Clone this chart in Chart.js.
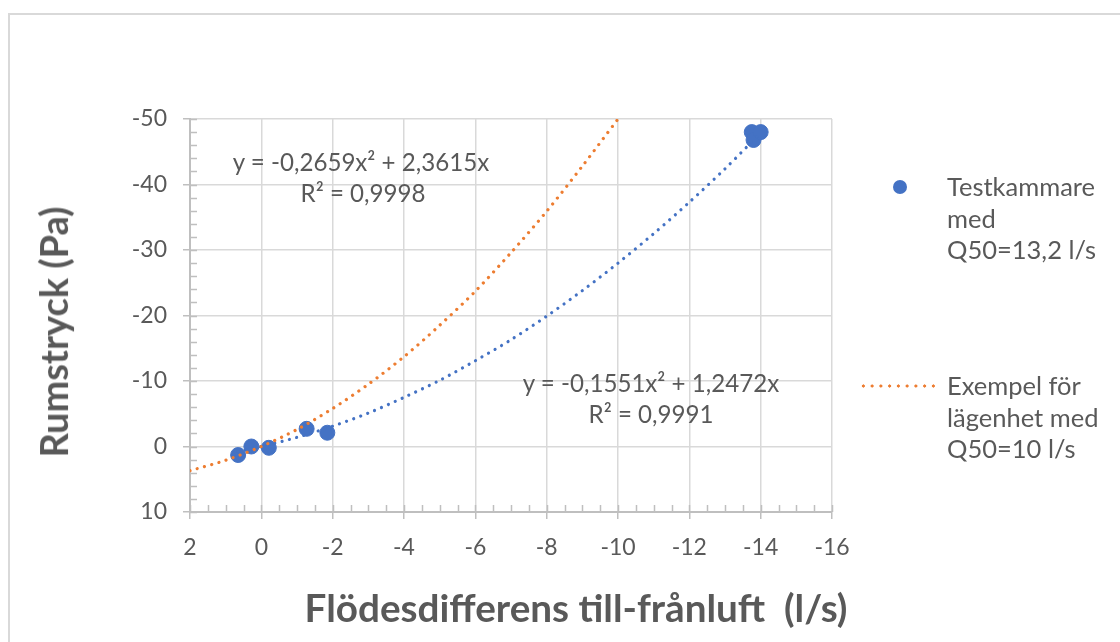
<!DOCTYPE html>
<html>
<head>
<meta charset="utf-8">
<script src="https://cdn.jsdelivr.net/npm/chart.js@4.4.1/dist/chart.umd.min.js"></script>
<style>
    body { margin: 0; background: #fff; overflow: hidden; }
    #wrap { position: relative; width: 1120px; height: 642px; overflow: hidden; }
    #frame { position: absolute; left: 8px; top: 13px; width: 1300px; height: 800px; border: 2px solid #d9d9d9; box-sizing: border-box; }
    #chart { position: absolute; left: 0; top: 0; }
    .txt { position: absolute; font-family: Lato, 'Open Sans', sans-serif; color: #595959; white-space: nowrap; line-height: 1; }
    .center { transform: translate(-50%, -50%); text-align: center; }
    .bold { font-weight: bold; }
    #ytitle { transform: translate(-50%, -50%) rotate(-90deg); }
    .legend-line { position: absolute; line-height: 31.5px; font-size: 25.5px; }
    #dot { position: absolute; left: 893px; top: 180px; width: 14px; height: 14px; border-radius: 50%; background: #4472c4; }
    #dash { position: absolute; left: 859px; top: 384px; width: 77px; height: 4px;
            background-image: radial-gradient(circle, #ed7d31 1.4px, transparent 1.8px);
            background-size: 8.75px 4px; }
</style>
</head>
<body>
<div id="wrap">
    <div id="frame"></div>
    <canvas id="chart" width="1120" height="642"></canvas>

    <div class="txt center bold" id="ytitle" style="left:54px; top:332px;">Rumstryck (Pa)</div>
    <div class="txt center bold" id="xtitle" style="left:576px; top:607px;">Flödesdifferens till-frånluft&nbsp; (l/s)</div>

    <div class="txt center eq" id="eq1" style="left:361px; top:162px;">y = -0,2659x² + 2,3615x</div>
    <div class="txt center eq" style="left:363px; top:193px;">R² = 0,9998</div>
    <div class="txt center eq" id="eq2" style="left:651px; top:383px;">y = -0,1551x² + 1,2472x</div>
    <div class="txt center eq" style="left:651px; top:414px;">R² = 0,9991</div>

    <div id="dot"></div>
    <div class="txt legend-line" style="left:947px; top:171px;">Testkammare<br>med<br>Q50=13,2 l/s</div>
    <div id="dash"></div>
    <div class="txt legend-line" style="left:947px; top:370px;">Exempel för<br>lägenhet med<br>Q50=10 l/s</div>
</div>

<script>
// Measured points (flow difference l/s, room pressure Pa)
const pointX = [0.65, 0.28, -0.21, -1.27, -1.85, -13.75, -13.8, -14.0];
const pointY = [1.3, 0.0, 0.2, -2.7, -2.1, -48.0, -46.8, -48.0];

// Trendline of the test chamber
const blueTrendX = [0.65, 0, -1, -2, -3, -4, -5, -6, -7, -8, -9, -10, -11, -12, -13, -14];
const blueTrendY = [0.75, 0, -1.4, -3.1, -5.1, -7.5, -10.1, -13.1, -16.3, -19.9, -23.8, -28.0, -32.5, -37.3, -42.4, -47.9];

// Example apartment curve
const orangeTrendX = [2, 1, 0, -1, -2, -3, -4, -5, -6, -7, -8, -9, -10];
const orangeTrendY = [3.7, 2.1, 0, -2.6, -5.8, -9.5, -13.7, -18.5, -23.7, -29.6, -35.9, -42.8, -50.0];

// Axis ranges and tick steps
const xRange = [-16, 2];
const yRange = [-50, 10];
const xStep = 2;
const yStep = 10;

const textColor = '#595959';
const fontFamily = "Lato, 'Open Sans', sans-serif";

function toXY(xs, ys) {
    return xs.map((x, i) => ({ x: x, y: ys[i] }));
}

// size a text element so it spans the width seen in the picture
function fitText(id, weight, width) {
    const el = document.getElementById(id);
    const ctx = document.createElement('canvas').getContext('2d');
    ctx.font = weight + ' 100px ' + fontFamily;
    const w = ctx.measureText(el.textContent).width;
    const size = 100 * width / w;
    el.style.fontSize = size + 'px';
    return size;
}

// small ticks between the labelled ones, Excel style
const minorTicks = {
    id: 'minorTicks',
    afterDraw(chart) {
        const { ctx, chartArea, scales } = chart;
        const x = scales.x, y = scales.y;
        ctx.save();
        ctx.strokeStyle = '#bfbfbf';
        ctx.lineWidth = 1.5;
        ctx.beginPath();
        for (let v = xRange[0]; v <= xRange[1]; v += 0.5) {
            const px = Math.round(x.getPixelForValue(v)) + 0.5;
            ctx.moveTo(px, chartArea.bottom);
            ctx.lineTo(px, chartArea.bottom - 7);
        }
        for (let v = yRange[0]; v <= yRange[1]; v += 2) {
            const py = Math.round(y.getPixelForValue(v)) + 0.5;
            ctx.moveTo(chartArea.left, py);
            ctx.lineTo(chartArea.left + 7, py);
        }
        ctx.stroke();
        ctx.restore();
    }
};

function renderChart() {
    const ctx = document.getElementById('chart').getContext('2d');
    new Chart(ctx, {
        type: 'scatter',
        data: {
            datasets: [
                {
                    label: 'Exempel för lägenhet med Q50=10 l/s',
                    type: 'line',
                    data: toXY(orangeTrendX, orangeTrendY),
                    borderColor: '#ed7d31',
                    borderWidth: 3.2,
                    borderDash: [0.01, 7.5],
                    borderCapStyle: 'round',
                    pointRadius: 0,
                    tension: 0.3,
                    fill: false,
                    order: 1
                },
                {
                    label: 'Trend',
                    type: 'line',
                    data: toXY(blueTrendX, blueTrendY),
                    borderColor: '#4472c4',
                    borderWidth: 3.2,
                    borderDash: [0.01, 7.5],
                    borderCapStyle: 'round',
                    pointRadius: 0,
                    tension: 0.3,
                    fill: false,
                    order: 2
                },
                {
                    label: 'Testkammare med Q50=13,2 l/s',
                    data: toXY(pointX, pointY),
                    backgroundColor: '#4472c4',
                    borderColor: '#4472c4',
                    pointRadius: 7.5,
                    order: 3
                }
            ]
        },
        options: {
            responsive: false,
            animation: false,
            layout: { padding: { left: 0, top: 119, right: 288, bottom: 0 } },
            plugins: {
                legend: { display: false },
                tooltip: { enabled: false }
            },
            scales: {
                x: {
                    type: 'linear',
                    reverse: true,
                    min: xRange[0],
                    max: xRange[1],
                    afterFit: s => { s.height = 130; },
                    ticks: {
                        stepSize: xStep,
                        color: textColor,
                        font: { family: fontFamily, size: 23 },
                        padding: 15
                    },
                    grid: { color: '#d9d9d9', lineWidth: 1.5, tickColor: '#bfbfbf', tickLength: 7 },
                    border: { color: '#bfbfbf', width: 2 }
                },
                y: {
                    type: 'linear',
                    reverse: true,
                    min: yRange[0],
                    max: yRange[1],
                    afterFit: s => { s.width = 190; },
                    ticks: {
                        stepSize: yStep,
                        color: textColor,
                        font: { family: fontFamily, size: 23 },
                        padding: 16
                    },
                    grid: { color: '#d9d9d9', lineWidth: 1.5, tickColor: '#bfbfbf', tickLength: 7 },
                    border: { color: '#bfbfbf', width: 2 }
                }
            }
        },
        plugins: [minorTicks]
    });
}

function initPage() {
    fitText('ytitle', 'bold', 251);
    fitText('xtitle', 'bold', 543);
    const eqSize = fitText('eq1', 'normal', 257);
    document.querySelectorAll('.eq').forEach(el => { el.style.fontSize = eqSize + 'px'; });
    renderChart();
}

window.onload = initPage;
</script>
</body>
</html>
